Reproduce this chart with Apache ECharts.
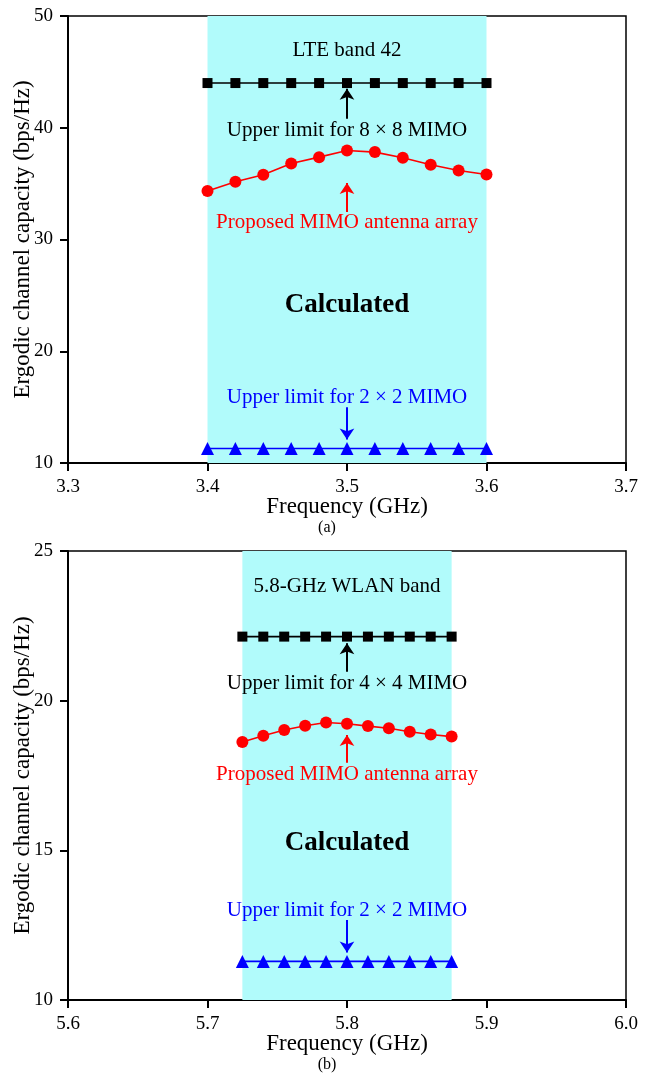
<!DOCTYPE html>
<html><head><meta charset="utf-8">
<script src="https://cdn.jsdelivr.net/npm/echarts@6/dist/echarts.min.js"></script>
<style>html,body{margin:0;padding:0;background:#fff}#c{width:654px;height:1074px}</style>
</head><body><div id="c"></div>
<script>
// Panel (a): LTE band 42
const freqA = [3.40,3.42,3.44,3.46,3.48,3.50,3.52,3.54,3.56,3.58,3.60];
const limit8x8 = [44,44,44,44,44,44,44,44,44,44,44];
const proposedA = [34.33,35.17,35.8,36.8,37.37,37.97,37.82,37.32,36.69,36.18,35.82];
const limit2x2A = [11.3,11.3,11.3,11.3,11.3,11.3,11.3,11.3,11.3,11.3,11.3];
const bandA = [3.40, 3.60];
// Panel (b): 5.8-GHz WLAN band
const freqB = [5.725,5.74,5.755,5.77,5.785,5.80,5.815,5.83,5.845,5.86,5.875];
const limit4x4 = [22.14,22.14,22.14,22.14,22.14,22.14,22.14,22.14,22.14,22.14,22.14];
const proposedB = [18.62,18.83,19.02,19.16,19.27,19.23,19.15,19.08,18.96,18.87,18.80];
const limit2x2B = [11.29,11.29,11.29,11.29,11.29,11.29,11.29,11.29,11.29,11.29,11.29];
const bandB = [5.725, 5.875];

const FONT = '"Liberation Serif","Times New Roman",serif';
const zip = (xs, ys) => xs.map((x, i) => [x, ys[i]]);

function xAx(idx, min, max) {
  return {
    gridIndex: idx, type: 'value', min: min, max: max, interval: 0.1,
    name: 'Frequency (GHz)', nameLocation: 'middle', nameGap: 32, nameMoveOverlap: false,
    nameTextStyle: {fontFamily: FONT, fontSize: 23, color: '#000'},
    axisLine: {onZero: false, lineStyle: {color: '#000', width: 2}},
    axisTick: {inside: false, length: 8, lineStyle: {color: '#000', width: 2}},
    axisLabel: {fontFamily: FONT, fontSize: 19, color: '#000', margin: 15,
      hideOverlap: false, formatter: v => v.toFixed(1)},
    splitLine: {show: false}
  };
}
function yAx(idx, min, max, interval) {
  return {
    gridIndex: idx, type: 'value', min: min, max: max, interval: interval,
    name: 'Ergodic channel capacity (bps/Hz)', nameLocation: 'middle', nameGap: 34, nameMoveOverlap: false,
    nameTextStyle: {fontFamily: FONT, fontSize: 23, color: '#000'},
    axisLine: {onZero: false, lineStyle: {color: '#000', width: 2}},
    axisTick: {inside: false, length: 8, lineStyle: {color: '#000', width: 2}},
    axisLabel: {fontFamily: FONT, fontSize: 19, color: '#000', margin: 15, hideOverlap: false},
    splitLine: {show: false}
  };
}
function line(idx, data, color, symbol, size) {
  return {
    type: 'line', xAxisIndex: idx, yAxisIndex: idx, data: data, z: 5,
    symbol: symbol, symbolSize: size, showSymbol: true,
    lineStyle: {color: color, width: 1.6}, itemStyle: {color: color},
    animation: false
  };
}
function txt(x, y, text, color, size, weight) {
  return {coord: [x, y], value: text,
    label: {show: true, position: 'inside', formatter: text, color: color,
      fontFamily: FONT, fontSize: size, fontWeight: weight || 'normal'}};
}
function arrowI(idx, x, y1, y2, color) {
  return {
    type: 'line', xAxisIndex: idx, yAxisIndex: idx, data: [], z: 6, animation: false,
    markLine: {silent: true, symbol: ['none', 'arrow'], symbolSize: 11,
      label: {show: false}, lineStyle: {color: color, width: 2, type: 'solid'},
      itemStyle: {color: color},
      data: [[{coord: [x, y1]}, {coord: [x, y2]}]]}
  };
}
function annot(idx, items) {
  return {
    type: 'scatter', xAxisIndex: idx, yAxisIndex: idx, data: [], z: 7, animation: false,
    markPoint: {silent: true, symbol: 'rect', symbolSize: 1,
      itemStyle: {color: 'rgba(0,0,0,0)'}, data: items}
  };
}
function shade(idx, band) {
  return {
    type: 'line', xAxisIndex: idx, yAxisIndex: idx, data: [], z: 1, animation: false,
    markArea: {silent: true, itemStyle: {color: '#b1fbfb'},
      data: [[{xAxis: band[0]}, {xAxis: band[1]}]]}
  };
}

const chart = echarts.init(document.getElementById('c'), null, {renderer: 'canvas'});
chart.setOption({
  backgroundColor: '#fff',
  animation: false,
  grid: [
    {left: 68, top: 16, width: 558, height: 447, show: true, borderColor: '#000', borderWidth: 1.5,
      backgroundColor: 'transparent', containLabel: false, outerBoundsMode: 'none'},
    {left: 68, top: 551, width: 558, height: 449, show: true, borderColor: '#000', borderWidth: 1.5,
      backgroundColor: 'transparent', containLabel: false, outerBoundsMode: 'none'}
  ],
  xAxis: [xAx(0, 3.3, 3.7), xAx(1, 5.6, 6.0)],
  yAxis: [yAx(0, 10, 50, 10), yAx(1, 10, 25, 5)],
  graphic: [
    {type: 'text', left: 'center', top: 520, style: {text: '(a)', font: '16px ' + FONT, fill: '#000'}},
    {type: 'text', left: 'center', top: 1057, style: {text: '(b)', font: '16px ' + FONT, fill: '#000'}}
  ],
  series: [
    shade(0, bandA),
    line(0, zip(freqA, limit8x8), '#000', 'rect', 10),
    line(0, zip(freqA, proposedA), '#ff0000', 'circle', 12),
    line(0, zip(freqA, limit2x2A), '#0000ff', 'triangle', 13),
    arrowI(0, 3.5, 40.8, 43.5, '#000'),
    arrowI(0, 3.5, 32.45, 35.05, '#ff0000'),
    arrowI(0, 3.5, 15.0, 12.1, '#0000ff'),
    annot(0, [
      txt(3.5, 46.9, 'LTE band 42', '#000', 21),
      txt(3.5, 39.8, 'Upper limit for 8 × 8 MIMO', '#000', 21),
      txt(3.5, 31.56, 'Proposed MIMO antenna array', '#ff0000', 21),
      txt(3.5, 24.1, 'Calculated', '#000', 27, 'bold'),
      txt(3.5, 15.9, 'Upper limit for 2 × 2 MIMO', '#0000ff', 21)
    ]),
    shade(1, bandB),
    line(1, zip(freqB, limit4x4), '#000', 'rect', 10),
    line(1, zip(freqB, proposedB), '#ff0000', 'circle', 12),
    line(1, zip(freqB, limit2x2B), '#0000ff', 'triangle', 13),
    arrowI(1, 5.8, 20.97, 21.92, '#000'),
    arrowI(1, 5.8, 17.93, 18.85, '#ff0000'),
    arrowI(1, 5.8, 12.67, 11.59, '#0000ff'),
    annot(1, [
      txt(5.8, 23.8, '5.8-GHz WLAN band', '#000', 21),
      txt(5.8, 20.58, 'Upper limit for 4 × 4 MIMO', '#000', 21),
      txt(5.8, 17.52, 'Proposed MIMO antenna array', '#ff0000', 21),
      txt(5.8, 15.23, 'Calculated', '#000', 27, 'bold'),
      txt(5.8, 13.0, 'Upper limit for 2 × 2 MIMO', '#0000ff', 21)
    ])
  ]
});
</script></body></html>
